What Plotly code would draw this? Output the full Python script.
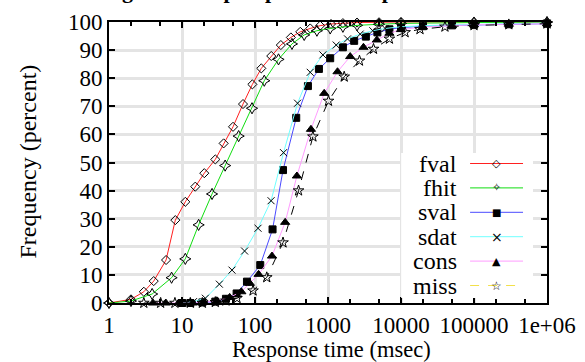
import plotly.graph_objects as go

# ---------------- data ----------------
fval_x = [1, 2, 3, 4.1, 6.05, 8.1, 11.1, 15.2, 20.2, 28.6, 37.2, 50, 68.5, 92, 122, 167, 226, 310, 417, 571, 780,
          1100, 1600, 2500, 5000, 10000, 100000, 1000000]
fval_y = [0, 1.3, 4.0, 7.8, 15.3, 29.5, 36, 41.4, 46.2, 51.1, 56.8, 62.7, 70.8, 77.8, 83.5, 87.9, 91.8, 94.5, 96.5,
          97.7, 98.7, 99.3, 99.6, 99.8, 99.9, 100, 100, 100]

fhit_x = [1, 2, 3.9, 7.2, 11.1, 16.9, 25.8, 39, 59.7, 91, 134, 210, 321, 472, 705, 1072, 1600, 2500, 5000, 10000,
          100000, 1000000]
fhit_y = [0, 0.7, 3.2, 9, 15.7, 27.8, 38.8, 48.9, 59.4, 69.3, 79.1, 86.7, 92.2, 95.4, 96.9, 97.7, 98.3, 98.8, 99.2,
          99.5, 99.8, 100]

sval_x = [10, 13, 19, 28.6, 40, 56, 77.6, 118, 174, 242, 367, 531, 751, 1072, 1600, 2282, 3300, 4750, 6940, 10000,
          20000, 50000, 100000, 300000, 1000000]
sval_y = [0, 0, 0.2, 0.5, 1.5, 3.4, 7.6, 13.5, 26.2, 47.3, 65.9, 77.2, 83.3, 87.1, 91, 93.3, 94.8, 96.3, 97.4, 98,
          98.5, 98.8, 99, 99.2, 99.4]

sdat_x = [10, 14.4, 20.9, 32.5, 48.4, 72, 110, 166, 246, 383, 571, 851, 1295, 1850, 2760, 4110, 6060, 10000, 20000,
          50000, 100000, 300000, 1000000]
sdat_y = [0, 0.5, 1.7, 6.7, 11.7, 18.5, 26.6, 36.4, 53.5, 71.1, 82.1, 88.3, 91.8, 94, 95.7, 96.9, 97.7, 98.3, 98.7,
          99, 99.2, 99.4, 99.6]

cons_x = [4, 6, 9, 14, 20, 30, 45, 65, 85, 112, 171, 259, 375, 584, 887, 1350, 2013, 3060, 4670, 6940, 10000, 20000,
          50000, 100000, 300000, 1000000]
cons_y = [0, 0, 0, 0, 0.3, 0.8, 2, 4, 7, 10.2, 16.7, 28.7, 45.2, 61.8, 74.6, 82.3, 87.7, 91, 93.6, 96, 97.3, 98.2,
          98.7, 99, 99.2, 99.4]

miss_x = [3, 5.1, 8, 13, 19, 28.6, 40, 56.7, 94, 145, 242, 395, 621, 1016, 1667, 2700, 4200, 6940, 11380, 18200,
          40000, 100000, 300000, 1000000]
miss_y = [0, 0, 0, 0, 0, 0.3, 0.8, 1.7, 4.4, 9.1, 21.5, 40, 59.2, 71.9, 80.5, 86.2, 90.4, 94, 96.3, 97.4, 98.3,
          98.8, 99.1, 99.4]

x_tickvals = [1, 10, 100, 1000, 10000, 100000, 1000000]
x_ticktext = ["1", "10", "100", "1000", "10000", "100000", "1e+06"]
y_tickvals = [0, 10, 20, 30, 40, 50, 60, 70, 80, 90, 100]

series_names = ["fval", "fhit", "sval", "sdat", "cons", "miss"]

# ---------------- styling ----------------
FONT = "Liberation Serif"
FS = 24
TFS = 23
XTFS = 22.5
W, H = 585, 362
L, R, T, B = 108.5, 38, 22, 59
PW, PH = W - L - R, H - T - B

line_colors = ["#ff2020", "#10dd10", "#4a4aff", "#70ffff", "#ff9cff", "#f2e04a"]
line_dash = ["solid"] * 5 + ["dash"]
plot_line_colors = ["#ff2020", "#10dd10", "#4a4aff", "#70ffff", "#ff9cff", "#000000"]
symbols = ["diamond-open", "star-diamond-open", "square", "x-thin-open", "triangle-up", "star-open"]
msizes = [7, 8, 7, 7, 8, 8]
legend_glyphs = ["\u25C7", "\u2727", "\u25A0", "\u00D7", "\u25B2", "\u2606"]
glyph_sizes = [11, 11, 10, 14, 11, 12]

xs = [fval_x, fhit_x, sval_x, sdat_x, cons_x, miss_x]
ys = [fval_y, fhit_y, sval_y, sdat_y, cons_y, miss_y]

fig = go.Figure()
for i, name in enumerate(series_names):
    fig.add_trace(go.Scatter(
        x=xs[i], y=ys[i], name=name, mode="lines+markers",
        line=dict(color=plot_line_colors[i], width=1, dash=line_dash[i]),
        marker=dict(symbol=symbols[i], size=msizes[i], color="black",
                    line=dict(color="black", width=1)),
        cliponaxis=False, showlegend=False,
    ))

# ---------------- manual gnuplot-style legend ----------------
def px2x(px):
    return (px - L) / PW

def px2y(py):
    return (H - B - py) / PH

shapes = [dict(type="rect", xref="paper", yref="paper",
               x0=px2x(401), x1=px2x(533), y0=px2y(298), y1=px2y(153),
               fillcolor="white", line=dict(width=0), layer="above")]
annotations = []
for i, name in enumerate(series_names):
    ry = px2y(163.5 + 24.4 * i)
    shapes.append(dict(type="line", xref="paper", yref="paper",
                       x0=px2x(470), x1=px2x(523), y0=ry, y1=ry,
                       line=dict(color=line_colors[i], width=1, dash=line_dash[i]), layer="above"))
    annotations.append(dict(text=name, xref="paper", yref="paper", x=px2x(459), y=ry,
                            xanchor="right", yanchor="middle", showarrow=False,
                            font=dict(family=FONT, size=FS, color="black")))
    annotations.append(dict(text=legend_glyphs[i], xref="paper", yref="paper", x=px2x(496.7), y=ry,
                            xanchor="center", yanchor="middle", showarrow=False,
                            font=dict(family="DejaVu Sans", size=glyph_sizes[i], color="black")))

# title (mostly clipped at the top of the canvas, as in the reference)
annotations.append(dict(text="<b>Timings of lookup in parallel compound mode</b>", xref="paper", yref="paper",
                        x=px2x(62), y=px2y(5), xanchor="left", yanchor="bottom", showarrow=False,
                        font=dict(family=FONT, size=22, color="black")))

# axis titles
annotations.append(dict(text="Response time (msec)", xref="paper", yref="paper",
                        x=px2x(331), y=px2y(349.5), xanchor="center", yanchor="middle", showarrow=False,
                        font=dict(family=FONT, size=XTFS, color="black")))
annotations.append(dict(text="Frequency (percent)", xref="paper", yref="paper", textangle=-90,
                        x=px2x(27), y=px2y(162), xanchor="center", yanchor="middle", showarrow=False,
                        font=dict(family=FONT, size=FS, color="black")))

axis_common = dict(showline=True, linecolor="black", linewidth=2, mirror="ticks",
                   ticks="inside", ticklen=6, tickwidth=1.5, tickcolor="black",
                   showgrid=True, gridcolor="#e4e4e4", gridwidth=2.5, zeroline=False,
                   tickfont=dict(family=FONT, size=TFS, color="black"))

fig.update_layout(
    width=W, height=H, margin=dict(l=L, r=R, t=T, b=B, autoexpand=False),
    paper_bgcolor="white", plot_bgcolor="white",
    xaxis=dict(type="log", range=[0, 6], tickvals=x_tickvals, ticktext=x_ticktext,
               minor=dict(dtick="D2", ticks="inside", ticklen=4, tickwidth=1.5, tickcolor="black", showgrid=False),
               **axis_common),
    yaxis=dict(range=[0, 100], tickvals=y_tickvals,
               **axis_common),
    shapes=shapes, annotations=annotations, showlegend=False,
)

# remove the browser's default 8px body margin so the canvas sits at the page origin
fig.write_html("out.html", config={"displayModeBar": False},
               post_script="document.body.style.margin='0px';")
